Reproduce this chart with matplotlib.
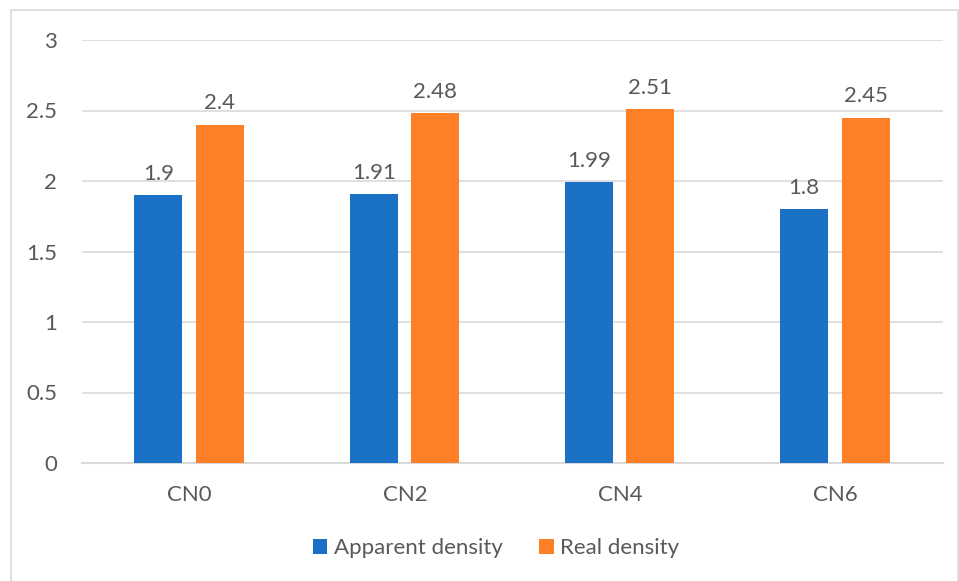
import matplotlib
matplotlib.use("Agg")
import matplotlib.pyplot as plt
from matplotlib.patches import Rectangle
import numpy as np

categories = ["CN0", "CN2", "CN4", "CN6"]
apparent_density = [1.9, 1.91, 1.99, 1.8]
real_density = [2.4, 2.48, 2.51, 2.45]
y_ticks = [0, 0.5, 1, 1.5, 2, 2.5, 3]
y_tick_labels = ["0", "0.5", "1", "1.5", "2", "2.5", "3"]

blue = "#1A71C6"
orange = "#FE7F26"
text_gray = "#595959"
grid_gray = "#D9D9D9"

plt.rcParams["font.family"] = ["Lato", "DejaVu Sans"]
fs = 16

fig = plt.figure(figsize=(9.59, 5.81), dpi=100)
ax = fig.add_axes([82 / 959, 1 - 463 / 581, (943 - 82) / 959, (463 - 40) / 581])

x = np.arange(len(categories))
w = 0.223
b1 = ax.bar(x - 0.145, apparent_density, w, color=blue, label="Apparent density", zorder=3)
b2 = ax.bar(x + 0.14, real_density, w, color=orange, label="Real density", zorder=3)

for bars, vals in ((b1, apparent_density), (b2, real_density)):
    for r, v in zip(bars, vals):
        ax.annotate(f"{v:g}", (r.get_x() + r.get_width() / 2, v),
                    xytext=(0, 8), textcoords="offset points",
                    ha="center", va="bottom", fontsize=fs, color=text_gray)

ax.set_xlim(-0.5, len(categories) - 0.5)
ax.set_ylim(0, 3)
ax.set_yticks(y_ticks)
ax.set_yticklabels(y_tick_labels)
ax.set_xticks(x)
ax.set_xticklabels(categories)
ax.tick_params(axis="both", length=0, labelsize=fs, colors=text_gray)
ax.tick_params(axis="x", pad=16)
ax.tick_params(axis="y", pad=18)
ax.grid(axis="y", color=grid_gray, linewidth=1.2, zorder=0)
for s in ("top", "right", "left"):
    ax.spines[s].set_visible(False)
ax.spines["bottom"].set_color(grid_gray)
ax.spines["bottom"].set_linewidth(1.5)

fig.legend(handles=[b1, b2], loc="center", bbox_to_anchor=(496 / 959, 1 - 548 / 581),
           ncol=2, frameon=False, fontsize=fs, labelcolor=text_gray,
           handlelength=0.65, handleheight=0.65, handletextpad=0.3, columnspacing=1.65)

fig.patches.append(Rectangle((11 / 959, -0.01), (958 - 11) / 959, 1 - 10 / 581 + 0.01,
                             transform=fig.transFigure, fill=False,
                             edgecolor=grid_gray, linewidth=1.2))

fig.savefig("out.png", dpi=100)
